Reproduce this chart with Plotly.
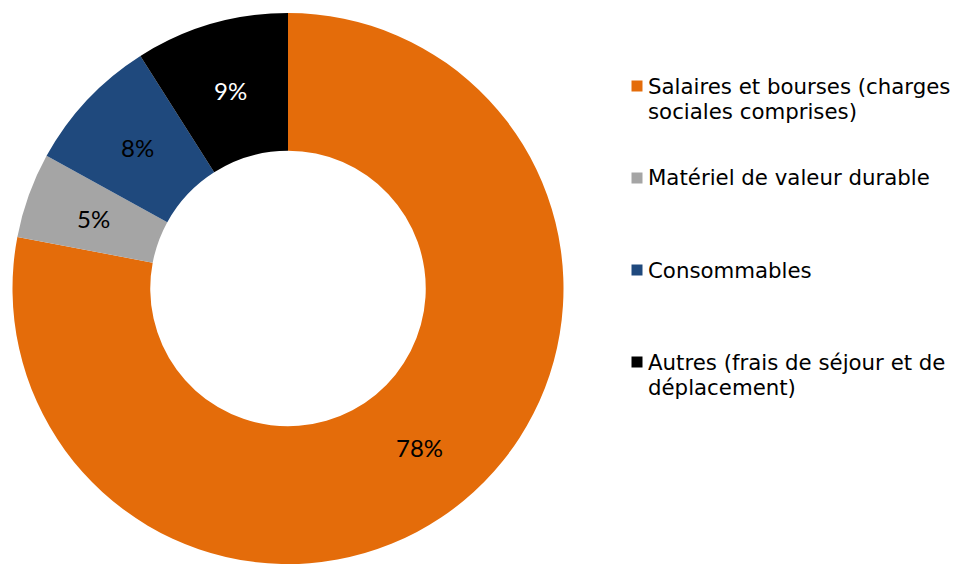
import math
import plotly.graph_objects as go

# Data
categories = [
    "Salaires et bourses (charges<br>sociales comprises)",
    "Matériel de valeur durable",
    "Consommables",
    "Autres (frais de séjour et de<br>déplacement)",
]
values = [78, 5, 8, 9]
colors = ["#E46C0A", "#A5A5A5", "#1F497D", "#000000"]
text_colors = ["#000000", "#000000", "#000000", "#FFFFFF"]

W, H = 956, 564
HOLE = 0.5
dom_x = [12.5 / W, 563.5 / W]
dom_y = [0, 551 / H]

fig = go.Figure()
fig.add_trace(go.Pie(
    labels=categories,
    values=values,
    sort=False,
    direction="clockwise",
    rotation=0,
    hole=HOLE,
    marker=dict(colors=colors, line=dict(width=0)),
    textinfo="none",
    domain=dict(x=dom_x, y=dom_y),
    showlegend=False,
))

# Percentage labels at the middle of each ring segment (as in the original)
cx = (dom_x[0] + dom_x[1]) / 2          # paper coords
cy = (dom_y[0] + dom_y[1]) / 2
r_out_px = min((dom_x[1] - dom_x[0]) * W, (dom_y[1] - dom_y[0]) * H) / 2
r_mid_px = r_out_px * (1 + HOLE) / 2
total = sum(values)
cum = 0
for v, tc in zip(values, text_colors):
    mid = (cum + v / 2) / total * 2 * math.pi
    cum += v
    px = r_mid_px * math.sin(mid)
    py = r_mid_px * math.cos(mid)
    fig.add_annotation(
        x=cx + px / W, y=cy + py / H, xref="paper", yref="paper",
        xanchor="center", yanchor="middle", showarrow=False,
        text=f"{round(v / total * 100)}%",
        font=dict(family="Lato", size=24, color=tc),
    )

# Legend drawn manually to reproduce the wide even spacing
legend_first_line_px = [86, 178, 270, 362]
line_px = 25.5
font_size = 21.3
for lab, col, y0 in zip(categories, colors, legend_first_line_px):
    for i, line in enumerate(lab.split("<br>")):
        yc = y0 + i * line_px
        fig.add_annotation(
            x=646 / W, y=1 - yc / H, xref="paper", yref="paper",
            xanchor="left", yanchor="middle", align="left",
            text=line, showarrow=False,
            font=dict(family="DejaVu Sans", size=font_size, color="#000000"),
        )
    fig.add_shape(
        type="rect", xref="paper", yref="paper",
        x0=631.5 / W, x1=642.5 / W,
        y0=1 - (y0 + 5.5) / H, y1=1 - (y0 - 5.5) / H,
        fillcolor=col, line=dict(width=0),
    )

fig.update_layout(
    width=W, height=H,
    margin=dict(l=0, r=0, t=0, b=0),
    paper_bgcolor="white",
    plot_bgcolor="white",
)

fig.write_html(
    "out.html",
    config={"displayModeBar": False},
    post_script="document.body.style.margin='0';document.documentElement.style.overflow='hidden';",
)
